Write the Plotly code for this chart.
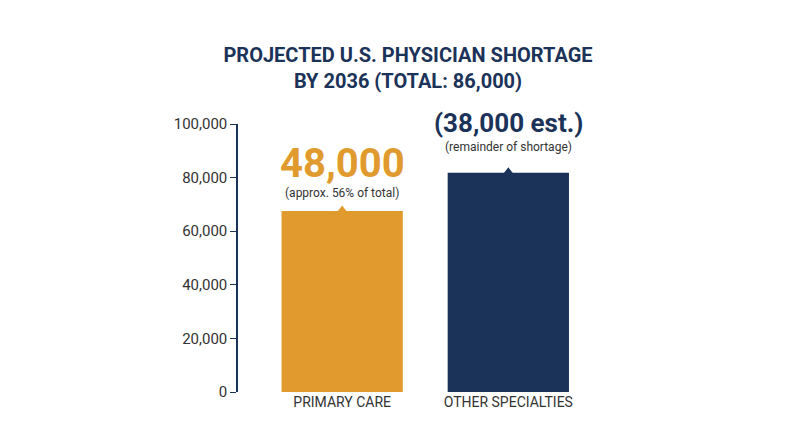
import plotly.graph_objects as go

categories = ["PRIMARY CARE", "OTHER SPECIALTIES"]
bar_values = [67500, 81800]
big_labels = ["48,000", "(38,000 est.)"]
small_labels = ["(approx. 56% of total)", "(remainder of shortage)"]
colors = ["#E09A2D", "#1B3358"]
x_pos = [0, 1]

fig = go.Figure()
fig.add_trace(go.Bar(x=x_pos, y=bar_values, width=0.73, marker_color=colors,
                     marker_line_width=0, showlegend=False, hoverinfo="skip"))
# little pointer notches on top of each bar
fig.add_trace(go.Scatter(x=x_pos, y=bar_values, mode="markers",
                         marker=dict(symbol="triangle-up", size=11, color=colors),
                         showlegend=False, hoverinfo="skip", cliponaxis=False))

big_sizes = [40, 26]
big_shift = [38, 50]
small_shift = [14, 26]
for i in range(2):
    fig.add_annotation(x=x_pos[i], y=bar_values[i], text="<b>" + big_labels[i] + "</b>",
                       showarrow=False, yshift=big_shift[i] + (10 if i == 0 else 0),
                       yanchor="bottom" if False else "middle",
                       font=dict(family="Roboto", size=big_sizes[i], color=colors[i]))
    fig.add_annotation(x=x_pos[i], y=bar_values[i], text=small_labels[i],
                       showarrow=False, yshift=small_shift[i] + (4 if i == 0 else 0),
                       font=dict(family="Roboto", size=12, color="#333333"))

fig.update_layout(
    width=800, height=447,
    margin=dict(l=230, r=200, t=116, b=63),
    plot_bgcolor="white", paper_bgcolor="white",
    title=dict(text="<b>PROJECTED U.S. PHYSICIAN SHORTAGE<br>BY 2036 (TOTAL: 86,000)</b>",
               x=0.5, xanchor="center", y=0.88, yanchor="middle",
               font=dict(family="Roboto", size=20, color="#1B3358")),
    font=dict(family="Roboto", color="#333333"),
)
fig.update_xaxes(range=[-0.627, 1.6], tickvals=x_pos, ticktext=categories,
                 showgrid=False, zeroline=False, showline=False,
                 tickfont=dict(size=14, color="#333333"))
fig.update_yaxes(range=[0, 100000], tickvals=[0, 20000, 40000, 60000, 80000, 100000],
                 tickformat=",", showgrid=False, zeroline=False, showline=True,
                 linecolor="#1B3358", linewidth=1.5, ticks="outside", ticklen=6,
                 tickcolor="#1B3358", tickfont=dict(size=15, color="#333333"))

fig.write_html("out.html")
